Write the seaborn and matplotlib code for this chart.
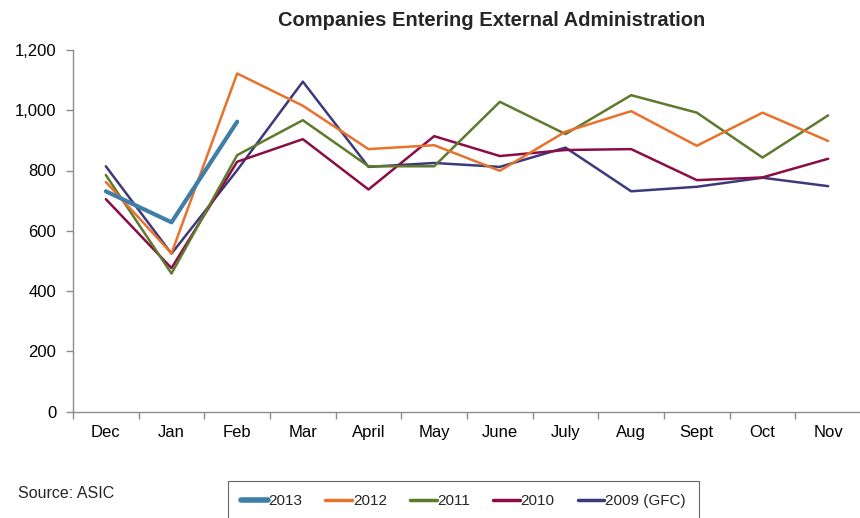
import matplotlib
matplotlib.use("Agg")
import matplotlib.pyplot as plt
import seaborn as sns
import pandas as pd
import numpy as np
from matplotlib.ticker import FuncFormatter, FixedLocator

months = ["Dec", "Jan", "Feb", "Mar", "April", "May", "June", "July", "Aug", "Sept", "Oct", "Nov"]
y2013 = [731, 628, 962]
y2012 = [762, 525, 1122, 1015, 871, 884, 799, 929, 997, 882, 992, 898]
y2011 = [785, 458, 851, 967, 814, 814, 1028, 921, 1050, 992, 843, 983]
y2010 = [705, 476, 829, 904, 737, 914, 848, 868, 871, 768, 777, 839]
y2009 = [814, 524, 801, 1095, 812, 825, 812, 876, 731, 746, 776, 748]

series_names = ["2013", "2012", "2011", "2010", "2009 (GFC)"]
series_vals = [y2013, y2012, y2011, y2010, y2009]
colors = ["#3F7EA6", "#E8722C", "#5F7A2C", "#8A0D45", "#3C3A7C"]
widths = [3.0, 1.8, 1.8, 1.8, 1.8]

rows = []
for name, vals in zip(series_names, series_vals):
    for m, v in zip(months, vals):
        rows.append({"month": m, "value": v, "series": name})
df = pd.DataFrame(rows)

sns.set_style("white")
plt.rcParams['font.family'] = ['Liberation Sans', 'DejaVu Sans']

fig = plt.figure(figsize=(8.6, 5.18), dpi=100)
ax = fig.add_axes([73/860, 1 - 411.5/518, (861-73)/860, (411.5-50)/518])

# draw in reverse order so 2013 on top
for name, c, w in reversed(list(zip(series_names, colors, widths))):
    sub = df[df["series"] == name]
    sns.lineplot(data=sub, x="month", y="value", ax=ax, color=c, linewidth=w,
                 sort=False, label=name, legend=False)

ax.set_xlim(-0.5, 11.5)
ax.set_ylim(0, 1200)
ax.set_yticks(np.arange(0, 1201, 200))
ax.yaxis.set_major_formatter(FuncFormatter(lambda v, p: f"{int(v):,}"))
ax.set_xticks(range(12))
ax.set_xticklabels(months)
ax.xaxis.set_minor_locator(FixedLocator(np.arange(-0.5, 12, 1)))
ax.tick_params(bottom=True, left=True, which="both")
ax.tick_params(axis="x", which="major", length=0, pad=10, labelsize=12, colors="#000000")
ax.tick_params(axis="x", which="minor", length=5, width=1, color="#8C8C8C", direction="out")
ax.tick_params(axis="y", which="major", length=5, width=1, color="#8C8C8C", direction="out",
               labelsize=12, pad=7, labelcolor="#000000")
ax.set_xlabel("")
ax.set_ylabel("")
for s in ["top", "right"]:
    ax.spines[s].set_visible(False)
for s in ["left", "bottom"]:
    ax.spines[s].set_color("#8C8C8C")
    ax.spines[s].set_linewidth(1)
ax.grid(False)

fig.text(492/860, 1 - 20/518, "Companies Entering External Administration",
         ha="center", va="center", fontsize=14.5, fontweight="bold")
fig.text(18/860, 1 - 493/518, "Source: ASIC", ha="left", va="center", fontsize=11.5)

handles, labels = ax.get_legend_handles_labels()
order = [labels.index(n) for n in series_names]
handles = [handles[i] for i in order]
labels = [labels[i] for i in order]
leg = fig.legend(handles, labels, loc="upper left", bbox_to_anchor=(228/860, 1 - 481/518),
                 ncol=5, frameon=True, fontsize=11, handlelength=1.75, handletextpad=0.05,
                 columnspacing=1.5, borderpad=0.85, borderaxespad=0, fancybox=False)
leg.get_frame().set_edgecolor("#404040")
leg.get_frame().set_linewidth(0.8)
for h, w in zip(leg.legend_handles, [4.0, 2.5, 2.5, 2.5, 2.5]):
    h.set_linewidth(w)
    h.set_solid_capstyle("round")

fig.savefig("out.png", dpi=100)
